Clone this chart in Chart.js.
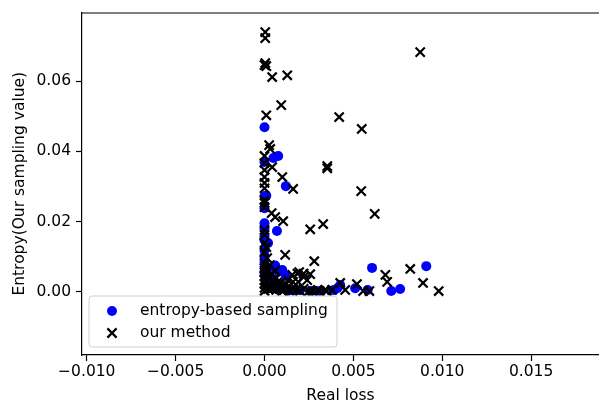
<!DOCTYPE html>
<html><head><meta charset="utf-8">
<script src="https://cdn.jsdelivr.net/npm/chart.js@4/dist/chart.umd.min.js"></script>
<style>html,body{margin:0;padding:0;background:#fff;overflow:hidden;}</style>
</head><body>
<canvas id="c" width="599" height="401" style="display:block;width:599px;height:401px"></canvas>
<script>
// ---- data ----
const entropyX = [0, 0.00077, 0.0005, 0, 0.0012, 0, 0.0001, 0, 0.0007, 0, 0, 0.0002, 0, 0, 0, 0.0005, 0.001, 0.0006, 0, 0.0001, 0.0003, 0.0008, 0.0013, 0.002, 0.0026, 0.0031, 0.0039, 0.00426, 0.0041, 0.0051, 0.0058, 0.00605, 0.0091, 0.00713, 0.00763, 0.0005, 0.0008,
  0, 0.0001, 0.0004, 0.0011, 0.0016, 0.0012, 0, 0];
const entropyY = [0.0469, 0.0387, 0.0381, 0.0370, 0.0301, 0.0272, 0.0274, 0.0238, 0.0173, 0.0181, 0.0147, 0.0139, 0.0118, 0.0101, 0.0085, 0.0070, 0.0062, 0.0075, 0.0048, 0.0025, 0.0011, 0.0005, 0.0002, 0.0005, 0.0002, 0.0002, 0.0005, 0.0019, 0.0010, 0.0010, 0.0005, 0.0068, 0.0073, 0.0002, 0.0008, 0.0035, 0.0058,
  0.0058, 0.0034, 0.0022, 0.0012, 0.0004, 0.0045, 0.0195, 0.0158];

const oursX = [0.00004, 0.00004, 0.00004, 0.0001, 0, 0.00043, 0.00128, 0.00876, 0.00094, 0.0001,
  0.0042, 0.00547, 0.00353, 0.00353, 0.00026, 0.00032, 0, 0.00043, 0.001, 0.00161,
  0.00544, 0.0062, 0.0033, 0.00257, 0, 0, 0, 0, 0, 0,
  0, 0, 0.0004, 0.0006, 0.00105, 0, 0, 0, 0.0001, 0,
  0.00116, 0.0028, 0.00015, 0, 0.0003, 0.00195, 0.00257, 0.00156, 0.00133, 0.0022,
  0.0019, 0.003, 0.0034, 0.00426, 0.00454, 0.0082, 0.0068, 0.0069, 0.00892, 0.0098,
  0.0052, 0.00555, 0.0059, 0.0027, 0.0031, 0, 0, 0, 0, 0,
  0, 0, 0.0002, 0.0002, 0.0002, 0.00043, 0.00043, 0.00043, 0.00066, 0.00066,
  0.00066, 0.0009, 0.0009, 0.0011, 0.0011, 0.0013, 0.0016, 0.0018, 0.002, 0.0022,
  0.0025, 0.00185, 0.0022, 0.0024, 0.0016, 0.0001, 0.0003, 0.0005, 0.0007, 0.0008,
  0.0004, 0.0002, 0.0012, 0.0014, 0.0006, 0.0001, 0.001, 0.0035, 0.0038];
const oursY = [0.0740, 0.0723, 0.0652, 0.0643, 0.0646, 0.0612, 0.0617, 0.0683, 0.0532, 0.0503,
  0.0498, 0.0464, 0.0358, 0.0352, 0.0418, 0.0407, 0.0387, 0.0355, 0.0327, 0.0293,
  0.0287, 0.0222, 0.0193, 0.0178, 0.0367, 0.0347, 0.0327, 0.0310, 0.0295, 0.0261,
  0.0253, 0.0241, 0.0224, 0.0213, 0.0201, 0.0176, 0.0162, 0.0139, 0.0127, 0.0113,
  0.0105, 0.0087, 0.0096, 0.0082, 0.0076, 0.0056, 0.0050, 0.0048, 0.0033, 0.0042,
  0.0028, 0.0005, 0.0005, 0.0025, 0.0005, 0.0065, 0.0048, 0.0028, 0.0025, 0.0002,
  0.0022, 0.0002, 0.0002, 0.0002, 0.0002, 0.0067, 0.0056, 0.0045, 0.0033, 0.0022,
  0.0011, 0.0002, 0.0062, 0.0039, 0.0016, 0.0050, 0.0028, 0.0008, 0.0039, 0.0019,
  0.0005, 0.0025, 0.0008, 0.0016, 0.0005, 0.0011, 0.0008, 0.0005, 0.0002, 0.0008,
  0.0002, 0.0052, 0.0052, 0.0033, 0.0028, 0.0059, 0.0044, 0.0033, 0.0026, 0.0012,
  0.0014, 0.0008, 0.0022, 0.0003, 0.0060, 0.0028, 0.0002, 0.0002, 0.0005];

const seriesNames = ['entropy-based sampling', 'our method'];
const xTicks = [-0.010, -0.005, 0.000, 0.005, 0.010, 0.015];
const yTicks = [0.00, 0.02, 0.04, 0.06];
const xRange = [-0.01027, 0.01882];
const yRange = [-0.01803, 0.0796];
const xTitle = 'Real loss';
const yTitle = 'Entropy(Our sampling value)';

// ---- chart ----
const FONT = 'DejaVu Sans';
const FS = 15.5;
Chart.defaults.font.family = FONT;
Chart.defaults.font.size = FS;
Chart.defaults.color = '#000';

const fmt = (v, d) => (v < 0 ? '\u2212' : '') + Math.abs(v).toFixed(d);
const zip = (xs, ys) => xs.map((x, i) => ({x: x, y: ys[i]}));

const frame = {
  id: 'frame',
  afterDatasetsDraw(chart) {
    const {ctx, chartArea: a} = chart;
    ctx.save();
    ctx.strokeStyle = '#000';
    ctx.lineWidth = 1.2;
    ctx.beginPath();
    ctx.moveTo(a.left, a.top + 0.5);
    ctx.lineTo(a.right + 2, a.top + 0.5);
    ctx.stroke();
    ctx.restore();
  }
};

const innerLegend = {
  id: 'innerLegend',
  afterDraw(chart) {
    const ctx = chart.ctx;
    const bx = 89, by = 296, bw = 248, bh = 51, r = 3;
    ctx.save();
    ctx.beginPath();
    ctx.moveTo(bx + r, by);
    ctx.arcTo(bx + bw, by, bx + bw, by + bh, r);
    ctx.arcTo(bx + bw, by + bh, bx, by + bh, r);
    ctx.arcTo(bx, by + bh, bx, by, r);
    ctx.arcTo(bx, by, bx + bw, by, r);
    ctx.closePath();
    ctx.fillStyle = 'rgba(255,255,255,0.8)';
    ctx.fill();
    ctx.strokeStyle = '#d0d0d0';
    ctx.lineWidth = 1;
    ctx.stroke();
    // markers
    ctx.fillStyle = '#0000ff';
    ctx.beginPath();
    ctx.arc(112, 311, 5, 0, Math.PI * 2);
    ctx.fill();
    ctx.strokeStyle = '#000';
    ctx.lineWidth = 2.2;
    ctx.beginPath();
    ctx.moveTo(112 - 4.6, 333 - 4.6); ctx.lineTo(112 + 4.6, 333 + 4.6);
    ctx.moveTo(112 - 4.6, 333 + 4.6); ctx.lineTo(112 + 4.6, 333 - 4.6);
    ctx.stroke();
    ctx.fillStyle = '#000';
    ctx.font = FS + 'px "' + FONT + '"';
    ctx.textBaseline = 'middle';
    ctx.textAlign = 'left';
    ctx.fillText(seriesNames[0], 140, 311);
    ctx.fillText(seriesNames[1], 140, 333);
    ctx.restore();
  }
};

new Chart(document.getElementById('c'), {
  type: 'scatter',
  data: {
    datasets: [
      { label: seriesNames[1], data: zip(oursX, oursY), order: 0,
        pointStyle: 'crossRot', radius: 6.5, borderWidth: 2.2,
        borderColor: '#000', backgroundColor: '#000', hoverRadius: 6.5 },
      { label: seriesNames[0], data: zip(entropyX, entropyY), order: 1,
        pointStyle: 'circle', radius: 5, borderWidth: 0,
        backgroundColor: '#0000ff', borderColor: '#0000ff', hoverRadius: 5 }
    ]
  },
  options: {
    responsive: false,
    animation: false,
    devicePixelRatio: 1,
    events: [],
    layout: { autoPadding: false, padding: { top: 12.5, right: 0, bottom: 0, left: 0 } },
    plugins: { legend: { display: false }, tooltip: { enabled: false } },
    scales: {
      x: {
        type: 'linear', min: xRange[0], max: xRange[1],
        afterBuildTicks: s => { s.ticks = xTicks.map(v => ({value: v})); },
        afterFit: s => { s.height = 46; s.paddingLeft = 0; s.paddingRight = 0; },
        ticks: { callback: v => fmt(v, 3), color: '#000', padding: 2, maxRotation: 0, autoSkip: false },
        grid: { drawOnChartArea: false, drawTicks: true, tickLength: 6, tickColor: '#000', tickWidth: 1.2 },
        border: { display: true, color: '#000', width: 1.2 },
        title: { display: true, text: xTitle, color: '#000', padding: { top: 0, bottom: -2.5 }, font: { size: FS, lineHeight: 1 } }
      },
      y: {
        type: 'linear', min: yRange[0], max: yRange[1],
        afterBuildTicks: s => { s.ticks = yTicks.map(v => ({value: v})); },
        afterFit: s => { s.width = 82; s.paddingTop = 0; s.paddingBottom = 0; },
        ticks: { callback: v => fmt(v, 2), color: '#000', padding: 5, autoSkip: false },
        grid: { drawOnChartArea: false, drawTicks: true, tickLength: 6, tickColor: '#000', tickWidth: 1.2 },
        border: { display: true, color: '#000', width: 1.2 },
        title: { display: true, text: yTitle, color: '#000', padding: { top: 11, bottom: 0 }, font: { size: FS, lineHeight: 1.2 } }
      }
    }
  },
  plugins: [frame, innerLegend]
});
</script>
</body></html>
